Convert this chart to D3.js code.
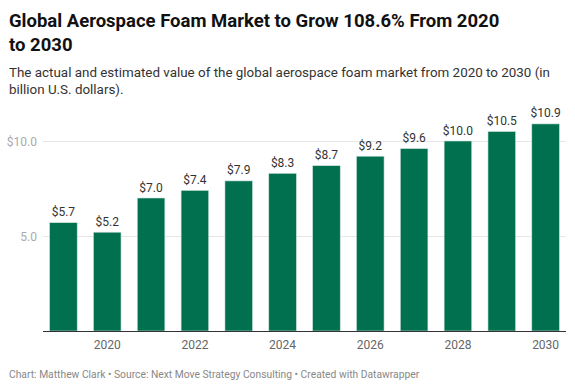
<!DOCTYPE html>
<html>
<head>
<meta charset="utf-8">
<script src="https://cdn.jsdelivr.net/npm/d3@7"></script>
<style>
  body { margin: 0; background: #fff; }
  svg { display: block; font-family: Roboto, sans-serif; }
</style>
</head>
<body>
<div id="chart"></div>
<script>
// Data
var years = ['2019', '2020', '2021', '2022', '2023', '2024', '2025', '2026', '2027', '2028', '2029', '2030'];
var values = [5.7, 5.2, 7.0, 7.4, 7.9, 8.3, 8.7, 9.2, 9.6, 10.0, 10.5, 10.9];
var yTicks = [5, 10];
var xTickLabels = ['2020', '2022', '2024', '2026', '2028', '2030'];

var width = 575, height = 390;
var barColor = '#00704f';

var svg = d3.select('#chart').append('svg')
    .attr('width', width)
    .attr('height', height);

// --- Title & subtitle ---
var title = svg.append('text')
    .attr('font-size', '18.5px')
    .attr('font-weight', 700)
    .attr('fill', '#111');
title.append('tspan').attr('x', 9).attr('y', 27).text('Global Aerospace Foam Market to Grow 108.6% From 2020');
title.append('tspan').attr('x', 9).attr('y', 51).text('to 2030');

var sub = svg.append('text')
    .attr('font-size', '13.4px')
    .attr('fill', '#333');
sub.append('tspan').attr('x', 9).attr('y', 77).text('The actual and estimated value of the global aerospace foam market from 2020 to 2030 (in');
sub.append('tspan').attr('x', 9).attr('y', 94).text('billion U.S. dollars).');

// --- Scales ---
var x = d3.scaleBand()
    .domain(years)
    .range([43, 566])
    .paddingInner(0.37)
    .paddingOuter(0.15);

var y = d3.scaleLinear()
    .domain([0, 10])
    .range([331, 141]);

// Gridlines
svg.append('g')
    .selectAll('line')
    .data(yTicks)
    .join('line')
    .attr('x1', 43)
    .attr('x2', 566)
    .attr('y1', function (d) { return Math.round(y(d)) + 0.5; })
    .attr('y2', function (d) { return Math.round(y(d)) + 0.5; })
    .attr('stroke', '#e6e6e6')
    .attr('stroke-width', 1);

// Y tick labels
svg.append('g')
    .selectAll('text')
    .data(yTicks)
    .join('text')
    .attr('x', 37)
    .attr('y', function (d) { return y(d) + 4.5; })
    .attr('text-anchor', 'end')
    .attr('font-size', '12px')
    .attr('fill', '#aaa')
    .text(function (d) { return (d === 10 ? '$' : '') + d.toFixed(1); });

// Bars
svg.append('g')
    .selectAll('rect')
    .data(values)
    .join('rect')
    .attr('x', function (d, i) { return x(years[i]); })
    .attr('y', function (d) { return y(d); })
    .attr('width', x.bandwidth())
    .attr('height', function (d) { return y(0) - y(d); })
    .attr('fill', barColor)
    .attr('stroke', '#cfe3dc')
    .attr('stroke-width', 0.6);

// Value labels
svg.append('g')
    .selectAll('text')
    .data(values)
    .join('text')
    .attr('x', function (d, i) { return x(years[i]) + x.bandwidth() / 2; })
    .attr('y', function (d) { return y(d) - 6.5; })
    .attr('text-anchor', 'middle')
    .attr('font-size', '12px')
    .attr('fill', '#333')
    .text(function (d) { return '$' + d.toFixed(1); });

// Baseline
svg.append('line')
    .attr('x1', 43)
    .attr('x2', 566)
    .attr('y1', y(0) + 0.5)
    .attr('y2', y(0) + 0.5)
    .attr('stroke', '#333')
    .attr('stroke-width', 1);

// X axis labels
var xAxis = d3.axisBottom(x)
    .tickValues(xTickLabels)
    .tickSize(0)
    .tickPadding(8);

var gx = svg.append('g')
    .attr('transform', 'translate(0,' + (y(0) + 1) + ')')
    .call(xAxis);
gx.select('.domain').remove();
gx.selectAll('text')
    .attr('font-family', 'Roboto, sans-serif')
    .attr('font-size', '12px')
    .attr('fill', '#666');

// Footer
svg.append('text')
    .attr('x', 9)
    .attr('y', 378)
    .attr('font-size', '10.3px')
    .attr('fill', '#888')
    .text('Chart: Matthew Clark \u2022 Source: Next Move Strategy Consulting \u2022 Created with Datawrapper');
</script>
</body>
</html>
